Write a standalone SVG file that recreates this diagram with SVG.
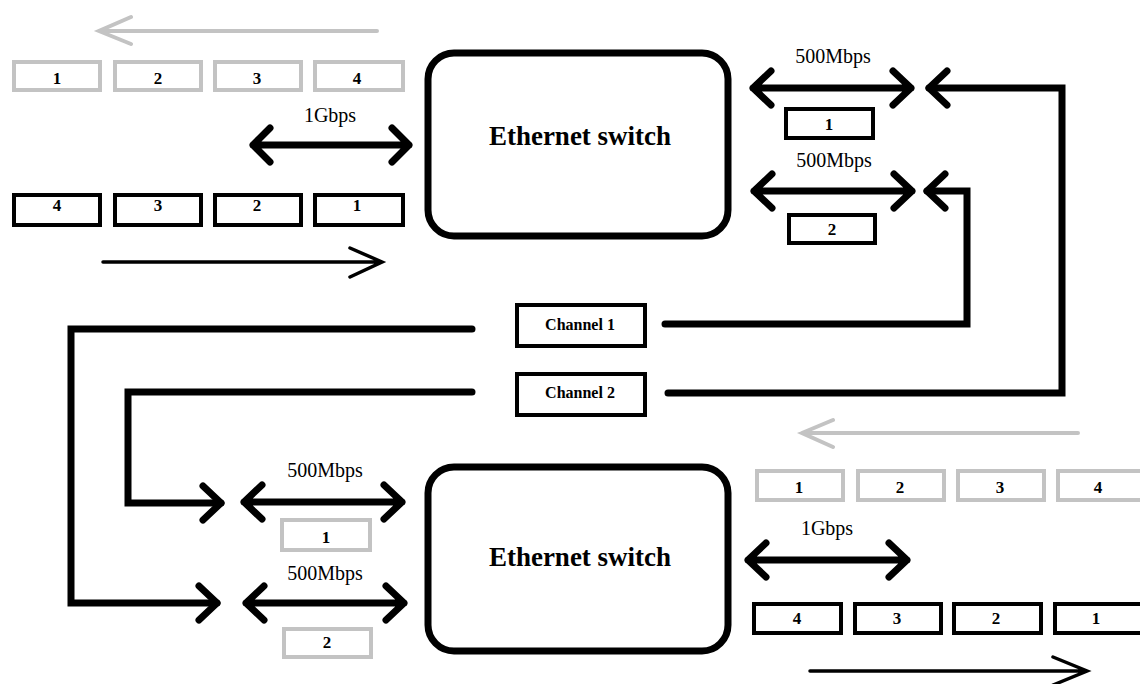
<svg xmlns="http://www.w3.org/2000/svg" width="1140" height="684" viewBox="0 0 1140 684">
  <style>
    .sw { fill: #fff; stroke: #000; stroke-width: 7; }
    .sw-label { font-family: "Liberation Serif", "Times New Roman", serif; font-weight: bold; font-size: 27px; text-anchor: middle; fill: #000; }
    .rate { font-family: "Liberation Serif", "Times New Roman", serif; font-size: 20px; text-anchor: middle; fill: #000; }
    .pkt-b { fill: #fff; stroke: #000; stroke-width: 4; }
    .pkt-g { fill: #fff; stroke: #c3c3c3; stroke-width: 4; }
    .num { font-family: "Liberation Serif", "Times New Roman", serif; font-weight: bold; font-size: 17px; text-anchor: middle; fill: #000; }
    .ch { font-family: "Liberation Serif", "Times New Roman", serif; font-weight: bold; font-size: 16px; text-anchor: middle; fill: #000; }
    .thick { fill: none; stroke: #000; stroke-width: 7; stroke-linecap: round; stroke-linejoin: round; }
    .wire { fill: none; stroke: #000; stroke-width: 7; stroke-linecap: round; stroke-linejoin: miter; }
    .flow-b { fill: none; stroke: #000; stroke-width: 3.5; stroke-linecap: round; }
    .flow-g { fill: none; stroke: #c3c3c3; stroke-width: 4; stroke-linecap: round; }
  </style>

  <!-- upper switch -->
  <g id="switch-top">
    <rect class="sw" x="428" y="53" width="300" height="183" rx="26"/>
    <text class="sw-label" x="580" y="145">Ethernet switch</text>
  </g>

  <!-- lower switch -->
  <g id="switch-bottom">
    <rect class="sw" x="428" y="467" width="300" height="184" rx="26"/>
    <text class="sw-label" x="580" y="566">Ethernet switch</text>
  </g>

  <!-- channel labels -->
  <g id="channel-1">
    <rect class="pkt-b" x="517" y="305" width="128" height="41"/>
    <text class="ch" x="580" y="330">Channel 1</text>
  </g>
  <g id="channel-2">
    <rect class="pkt-b" x="517" y="374" width="128" height="41"/>
    <text class="ch" x="580" y="398">Channel 2</text>
  </g>

  <!-- upper-left packets: returning (grey) and outgoing (black) -->
  <g id="top-left-in">
    <rect class="pkt-g" x="14" y="62" width="86" height="28"/>
    <rect class="pkt-g" x="115" y="62" width="86" height="28"/>
    <rect class="pkt-g" x="215" y="62" width="86" height="28"/>
    <rect class="pkt-g" x="315" y="62" width="88" height="28"/>
    <text class="num" x="57" y="84">1</text>
    <text class="num" x="158" y="84">2</text>
    <text class="num" x="257" y="84">3</text>
    <text class="num" x="357" y="84">4</text>
  </g>
  <g id="top-left-out">
    <rect class="pkt-b" x="14" y="195" width="86" height="30"/>
    <rect class="pkt-b" x="115" y="195" width="86" height="30"/>
    <rect class="pkt-b" x="215" y="195" width="86" height="30"/>
    <rect class="pkt-b" x="315" y="195" width="88" height="30"/>
    <text class="num" x="57" y="211">4</text>
    <text class="num" x="158" y="211">3</text>
    <text class="num" x="257" y="211">2</text>
    <text class="num" x="357" y="211">1</text>
  </g>

  <!-- upper-right split packets -->
  <g id="top-right-1">
    <rect class="pkt-b" x="786" y="109" width="87" height="29"/>
    <text class="num" x="829" y="130">1</text>
  </g>
  <g id="top-right-2">
    <rect class="pkt-b" x="789" y="215" width="86" height="28"/>
    <text class="num" x="832" y="235">2</text>
  </g>

  <!-- lower-left split packets -->
  <g id="bottom-left-1">
    <rect class="pkt-g" x="282" y="520" width="88" height="30"/>
    <text class="num" x="326" y="543">1</text>
  </g>
  <g id="bottom-left-2">
    <rect class="pkt-g" x="284" y="629" width="87" height="28"/>
    <text class="num" x="327" y="648">2</text>
  </g>

  <!-- lower-right packets -->
  <g id="bottom-right-in">
    <rect class="pkt-g" x="757" y="471" width="86" height="29"/>
    <rect class="pkt-g" x="858" y="471" width="86" height="29"/>
    <rect class="pkt-g" x="958" y="471" width="86" height="29"/>
    <rect class="pkt-g" x="1058" y="471" width="86" height="29"/>
    <text class="num" x="799" y="493">1</text>
    <text class="num" x="900" y="493">2</text>
    <text class="num" x="1000" y="493">3</text>
    <text class="num" x="1098" y="493">4</text>
  </g>
  <g id="bottom-right-out">
    <rect class="pkt-b" x="754" y="604" width="87" height="29"/>
    <rect class="pkt-b" x="855" y="604" width="86" height="29"/>
    <rect class="pkt-b" x="954" y="604" width="87" height="29"/>
    <rect class="pkt-b" x="1055" y="604" width="87" height="29"/>
    <text class="num" x="797" y="624">4</text>
    <text class="num" x="897" y="624">3</text>
    <text class="num" x="996" y="624">2</text>
    <text class="num" x="1096" y="624">1</text>
  </g>

  <!-- link rate labels -->
  <g id="rates">
    <text class="rate" x="330" y="122">1Gbps</text>
    <text class="rate" x="833" y="63">500Mbps</text>
    <text class="rate" x="834" y="167">500Mbps</text>
    <text class="rate" x="325" y="477">500Mbps</text>
    <text class="rate" x="325" y="580">500Mbps</text>
    <text class="rate" x="827" y="535">1Gbps</text>
  </g>

  <g id="connectors">
    <!-- flow direction arrows -->
    <path class="flow-g" d="M377,31 H100 M131,17 L99,31 L131,44"/>
    <path class="flow-b" d="M103,262 H381 M350,248 L382,262 L350,277"/>
    <path class="flow-g" d="M1078,433 H802 M833,420 L802,433 L833,447"/>
    <path class="flow-b" d="M810,671 H1087 M1053,657 L1087,671 L1053,685"/>

    <!-- bidirectional links -->
    <path class="thick" d="M253,145 H409 M270,128 L253,145 L270,162 M392,128 L409,145 L392,162"/>
    <path class="thick" d="M753,88 H911 M771,71 L753,88 L771,105 M893,71 L911,88 L893,105"/>
    <path class="thick" d="M754,191 H912 M772,174 L754,191 L772,208 M894,174 L912,191 L894,208"/>
    <path class="thick" d="M244,502 H402 M262,485 L244,502 L262,519 M384,485 L402,502 L384,519"/>
    <path class="thick" d="M246,603 H404 M264,586 L246,603 L264,620 M386,586 L404,603 L386,620"/>
    <path class="thick" d="M748,560 H907 M766,543 L748,560 L766,577 M889,543 L907,560 L889,577"/>

    <!-- channel wiring -->
    <path class="wire" d="M668,393 H1062 V88 H929"/>
    <path class="thick" d="M947,71 L929,88 L947,105"/>
    <path class="wire" d="M665,324 H967 V191 H927"/>
    <path class="thick" d="M945,174 L927,191 L945,208"/>
    <path class="wire" d="M472,329 H71 V603 H217"/>
    <path class="thick" d="M199,586 L217,603 L199,620"/>
    <path class="wire" d="M472,392 H128 V503 H221"/>
    <path class="thick" d="M203,486 L221,503 L203,520"/>
  </g>
</svg>
